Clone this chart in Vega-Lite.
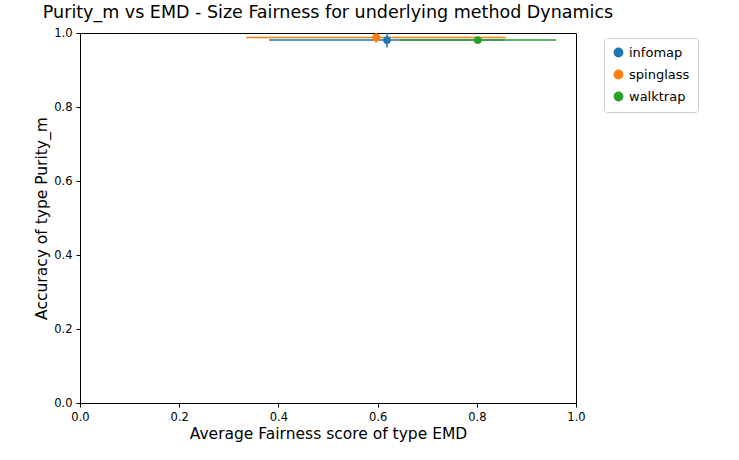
{
  "$schema": "https://vega.github.io/schema/vega-lite/v6.json",
  "width": 496,
  "height": 370,
  "autosize": {"type": "none"},
  "padding": {"left": 80, "top": 33, "right": 163, "bottom": 57},
  "title": {"text": "Purity_m vs EMD - Size Fairness for underlying method Dynamics", "fontSize": 17.5, "font": "DejaVu Sans", "fontWeight": "normal", "color": "black", "offset": 6, "anchor": "middle"},
  "config": {
    "font": "DejaVu Sans",
    "view": {"stroke": "black", "strokeWidth": 1},
    "axis": {"grid": false, "labelFlush": false, "labelFontSize": 11.5, "titleFontSize": 15.5, "titleFontWeight": "normal", "labelColor": "black", "titleColor": "black", "domainColor": "black", "tickColor": "black", "tickSize": 4, "labelPadding": 4, "labelFont": "DejaVu Sans", "titleFont": "DejaVu Sans"}
  },
  "data": {"values": [
    {"method": "infomap", "x": 0.619, "xerr": 0.238, "y": 0.981, "yerr": 0.02},
    {"method": "spinglass", "x": 0.597, "xerr": 0.262, "y": 0.988, "yerr": 0.015},
    {"method": "walktrap", "x": 0.802, "xerr": 0.158, "y": 0.981, "yerr": 0.005}
  ]},
  "transform": [
    {"calculate": "datum.x - datum.xerr", "as": "xlo"},
    {"calculate": "datum.x + datum.xerr", "as": "xhi"},
    {"calculate": "datum.y - datum.yerr", "as": "ylo"},
    {"calculate": "min(1, datum.y + datum.yerr)", "as": "yhi"}
  ],
  "encoding": {
    "color": {"field": "method", "type": "nominal", "scale": {"domain": ["infomap", "spinglass", "walktrap"], "range": ["#1f77b4", "#ff7f0e", "#2ca02c"]},
      "legend": {"title": null, "orient": "none", "legendX": 524, "legendY": 5, "labelFontSize": 13, "labelColor": "black", "symbolType": "circle", "symbolSize": 70, "padding": 8, "strokeColor": "#cccccc", "cornerRadius": 3, "fillColor": "white", "rowPadding": 7, "symbolOpacity": 1}}
  },
  "layer": [
    {"mark": {"type": "rule", "strokeWidth": 1.5}, "encoding": {
      "x": {"field": "xlo", "type": "quantitative", "scale": {"domain": [0, 1]}, "axis": {"values": [0, 0.2, 0.4, 0.6, 0.8, 1.0], "format": ".1f", "title": "Average Fairness score of type EMD"}},
      "x2": {"field": "xhi"},
      "y": {"field": "y", "type": "quantitative", "scale": {"domain": [0, 1]}, "axis": {"values": [0, 0.2, 0.4, 0.6, 0.8, 1.0], "format": ".1f", "title": "Accuracy of type Purity_m"}}
    }},
    {"mark": {"type": "rule", "strokeWidth": 1.5}, "encoding": {
      "x": {"field": "x", "type": "quantitative"},
      "y": {"field": "ylo", "type": "quantitative"},
      "y2": {"field": "yhi"}
    }},
    {"mark": {"type": "point", "filled": true, "size": 60, "opacity": 1}, "encoding": {
      "x": {"field": "x", "type": "quantitative"},
      "y": {"field": "y", "type": "quantitative"}
    }}
  ]
}
